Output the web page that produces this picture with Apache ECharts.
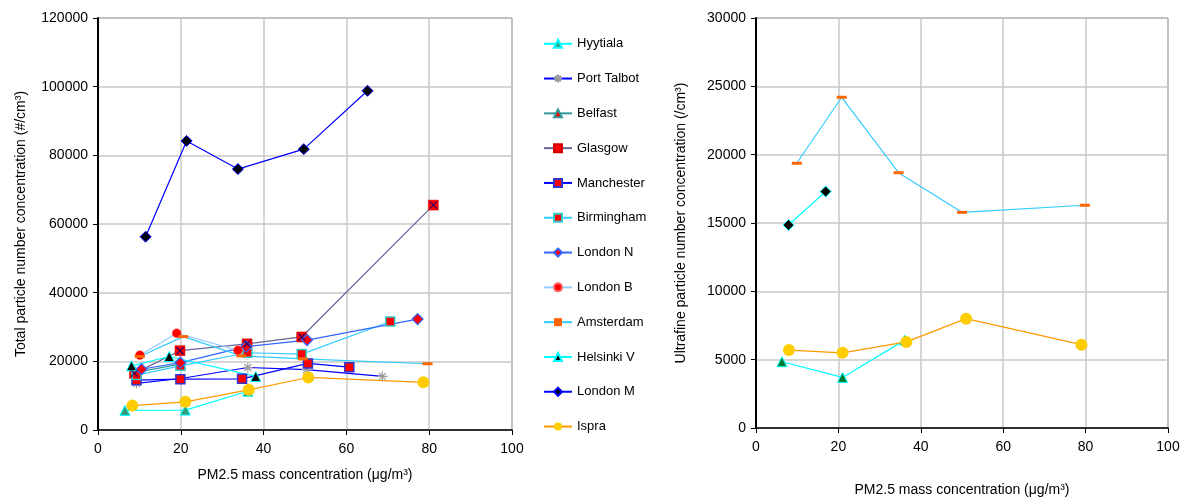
<!DOCTYPE html>
<html><head><meta charset="utf-8">
<script src="https://cdn.jsdelivr.net/npm/echarts@6/dist/echarts.min.js"></script>
<style>html,body{margin:0;padding:0;background:#fff}#c{width:1183px;height:502px}</style>
</head><body><div id="c"></div>
<script>
// ---- data (x = PM2.5 µg/m3, y = concentration) ----
const xTicks = [0, 20, 40, 60, 80, 100];
const hyytialaL  = [[6.5,5700],[21.1,5800],[36.2,11300]];
const portTalbot = [[9.3,13600],[20.0,15000],[36.2,18200],[50.4,17600],[68.7,15600]];
const belfast    = [[9.0,16800],[20.0,19200]];
const glasgow    = [[8.8,16500],[19.8,23100],[36.0,25100],[49.2,27100],[81.0,65500]];
const manchester = [[9.3,14500],[19.9,14800],[34.8,14900],[50.7,19400],[60.7,18300]];
const birmingham = [[9.3,16000],[19.9,18700],[36.1,22500],[49.2,22100],[70.6,31600]];
const londonN    = [[10.5,17700],[19.9,19600],[35.8,24300],[50.5,26200],[77.2,32300]];
const londonB    = [[10.1,21800],[19.0,28200],[33.8,23200]];
const amsterdamL = [[10.1,21400],[20.6,27200],[34.6,21600],[49.5,20700],[79.6,19300]];
const helsinkiL  = [[8.1,18700],[17.2,21400],[38.1,15600]];
const londonM    = [[11.5,56300],[21.4,84200],[33.8,76000],[49.7,81800],[65.1,98800]];
const ispraL     = [[8.3,7100],[21.1,8200],[36.4,11700],[50.8,15300],[78.6,13900]];
// right panel (ultrafine)
const helsinkiR  = [[7.9,14850],[16.9,17300]];
const amsterdamR = [[9.9,19370],[20.8,24200],[34.6,18680],[50.0,15780],[79.8,16300]];
const hyytialaR  = [[6.3,4850],[21.0,3700],[36.1,6430]];
const ispraR     = [[8.0,5700],[21.0,5500],[36.5,6300],[51.0,8000],[79.0,6100]];

const legendNames = ['Hyytiala','Port Talbot','Belfast','Glasgow','Manchester','Birmingham',
  'London N','London B','Amsterdam','Helsinki V','London M','Ispra'];

const FONT = 'Liberation Sans';
const STAR = 'path://M5,0L5,10M0,5L10,5M1.5,1.5L8.5,8.5M8.5,1.5L1.5,8.5';
const XMARK = 'path://M0,0L10,10M10,0L0,10';
const DASH = 'rect';

function ser(name, data, axis, lineColor, symbol, size, fill, border, bw, z) {
  return {
    name, type: 'line', data, xAxisIndex: axis, yAxisIndex: axis,
    symbol, symbolSize: size, showAllSymbol: true, z: z || 2,
    lineStyle: { color: lineColor, width: 1.2 },
    itemStyle: { color: fill, borderColor: border, borderWidth: bw },
    emphasis: { disabled: true }, animation: false
  };
}

const axisLbl = { fontFamily: FONT, fontSize: 14, color: '#000', formatter: v => String(v) };
function xAx(idx, gap) {
  return {
    type: 'value', gridIndex: idx, min: 0, max: 100, interval: 20,
    name: 'PM2.5 mass concentration (μg/m³)', nameLocation: 'middle', nameGap: gap,
    nameTextStyle: { fontFamily: FONT, fontSize: 14, color: '#000' },
    axisLine: { show: true, onZero: false, lineStyle: { color: '#000', width: 1.5 } },
    axisTick: { show: true, length: 5, lineStyle: { color: '#000' } },
    axisLabel: Object.assign({ margin: 12 }, axisLbl),
    splitLine: { show: true, lineStyle: { color: '#c8c8c8', width: 1.5 } }
  };
}
function yAx(idx, max, interval, name, gap) {
  return {
    type: 'value', gridIndex: idx, min: 0, max, interval,
    name, nameLocation: 'middle', nameGap: gap,
    nameTextStyle: { fontFamily: FONT, fontSize: 14, color: '#000' },
    axisLine: { show: true, lineStyle: { color: '#000', width: 2 } },
    axisTick: { show: true, length: 5, lineStyle: { color: '#000' } },
    axisLabel: Object.assign({ margin: 10 }, axisLbl),
    splitLine: { show: true, lineStyle: { color: '#c8c8c8', width: 1.5 } }
  };
}

const option = {
  backgroundColor: '#fff',
  animation: false,
  grid: [
    { left: 98, top: 18, width: 414, height: 412, show: true, borderColor: '#555', borderWidth: 1 },
    { left: 756, top: 18, width: 412, height: 412, show: true, borderColor: '#555', borderWidth: 1 }
  ],
  xAxis: [xAx(0, 38), xAx(1, 55)],
  yAxis: [
    yAx(0, 120000, 20000, 'Total particle number concentration (#/cm³)', 70),
    yAx(1, 30000, 5000, 'Ultrafine particle number concentration (/cm³)', 68)
  ],
  legend: {
    data: legendNames, orient: 'vertical', left: 538, top: 31,
    itemWidth: 28, itemHeight: 10, itemGap: 19.3,
    textStyle: { fontFamily: FONT, fontSize: 13, color: '#000', lineHeight: 15.5 },
    selectedMode: false
  },
  series: [
    ser('Hyytiala', hyytialaL, 0, '#00FFFF', 'triangle', 10, '#2E9E7E', '#00FFFF', 1),
    ser('Port Talbot', portTalbot, 0, '#0000FF', STAR, 10, '#999', '#999', 1.2),
    ser('Belfast', belfast, 0, '#339999', 'triangle', 10, '#FF0000', '#339999', 1),
    ser('Glasgow', glasgow, 0, '#666699', 'rect', 10, '#FF0000', '#CC0000', 0.5),
    { name: 'GlasgowX', type: 'scatter', data: glasgow, xAxisIndex: 0, yAxisIndex: 0, z: 3,
      symbol: XMARK, symbolSize: 7, itemStyle: { color: 'none', borderColor: '#000080', borderWidth: 1.3 },
      emphasis: { disabled: true }, animation: false },
    ser('Manchester', manchester, 0, '#0000FF', 'rect', 9, '#FF0000', '#3333CC', 1.5),
    ser('Birmingham', birmingham, 0, '#33CCFF', 'rect', 9, '#FF0000', '#33CCCC', 1.5),
    ser('London N', londonN, 0, '#3366FF', 'diamond', 11, '#FF0000', '#3366FF', 1.2),
    ser('London B', londonB, 0, '#99CCFF', 'circle', 9, '#FF0000', '#FF6666', 0.5),
    ser('Amsterdam', amsterdamL, 0, '#33CCFF', DASH, [10, 3], '#FF6600', '#FF6600', 0),
    ser('Helsinki V', helsinkiL, 0, '#00FFFF', 'triangle', 10, '#000', '#00FFFF', 1),
    ser('London M', londonM, 0, '#0000FF', 'diamond', 11, '#000', '#0000FF', 1),
    ser('Ispra', ispraL, 0, '#FF9900', 'circle', 12, '#FFCC00', '#FFCC00', 0),
    // right panel
    ser('Helsinki V', helsinkiR, 1, '#00FFFF', 'diamond', 11, '#000', '#00FFFF', 1),
    ser('Amsterdam', amsterdamR, 1, '#33CCFF', DASH, [10, 3], '#FF6600', '#FF6600', 0),
    ser('Hyytiala', hyytialaR, 1, '#00FFFF', 'triangle', 10, '#007A33', '#00FFFF', 1),
    ser('Ispra', ispraR, 1, '#FF9900', 'circle', 12, '#FFCC00', '#FFCC00', 0)
  ]
};
const chart = echarts.init(document.getElementById('c'), null, { renderer: 'canvas' });
chart.setOption(option);
</script>
</body></html>
